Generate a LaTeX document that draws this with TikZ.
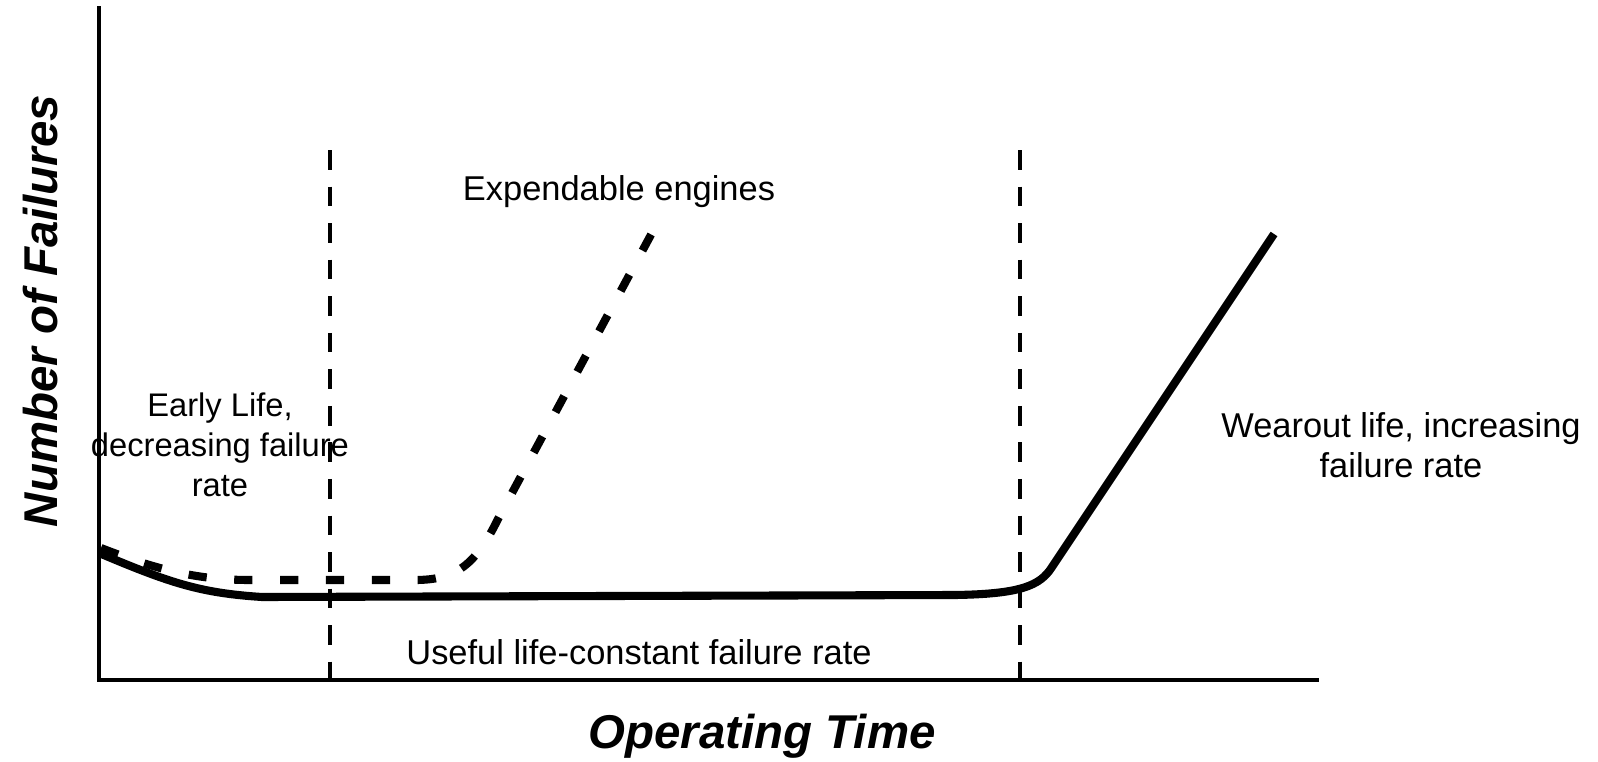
\documentclass[tikz,border=0pt]{standalone}
\usepackage{fontspec}
\setmainfont{Liberation Sans}
\usepackage{tikz}
\usetikzlibrary{positioning}
\definecolor{inkblack}{HTML}{000000}
\tikzset{
  axis/.style={draw=inkblack, line width=1.3pt, line cap=rect},
  phase/.style={draw=inkblack, line width=1.2pt, dash pattern=on 5.6pt off 4.8pt},
  life/.style={draw=inkblack, line width=2.3pt, line join=round},
  expend/.style={draw=inkblack, line width=2.3pt, dash pattern=on 5.2pt off 7.85pt},
  lbl/.style={font=\fontsize{9.8}{11.4}\selectfont, align=center, inner sep=0pt},
  ttl/.style={font=\fontsize{13.5}{15}\selectfont\bfseries\itshape, inner sep=0pt},
}
\begin{document}
\begin{tikzpicture}
        \useasboundingbox (0,0) rectangle (15.98,7.61);
        \draw[axis] (0.99,7.53) -- (0.99,0.81) -- (13.17,0.81);
        \draw[phase] (3.30,6.11) -- (3.30,0.81);
        \draw[phase] (10.20,6.11) -- (10.20,0.81);
        \draw[life] (0.99,2.08) .. controls (1.7,1.78) and (2.0,1.68) .. (2.62,1.64)
          -- (9.55,1.66) .. controls (10.2,1.67) and (10.4,1.75) .. (10.52,1.94) -- (12.74,5.27);
        \draw[expend] (1.01,2.13) .. controls (1.6,1.9) and (2.0,1.81) .. (2.5,1.81)
          -- (4.15,1.81) .. controls (4.55,1.81) and (4.75,1.95) .. (4.98,2.42) -- (6.53,5.30);
        \node[ttl, rotate=90] (yname) at (0.41,4.50) {Number of Failures};
        \node[ttl] (xname) at (7.62,0.25) {Operating Time};
        \node[lbl] (useful) at (6.39,1.09) {Useful life-constant failure rate};
        \node[lbl] (expendable) at (6.19,5.69) {Expendable engines};
        \node[lbl, font=\fontsize{9.3}{11.4}\selectfont] (early) at (2.20,3.16) {Early Life,\\decreasing failure\\rate};
        \node[lbl] (wearout) at (14.01,3.16) {Wearout life, increasing\\failure rate};
      \end{tikzpicture}
\end{document}
